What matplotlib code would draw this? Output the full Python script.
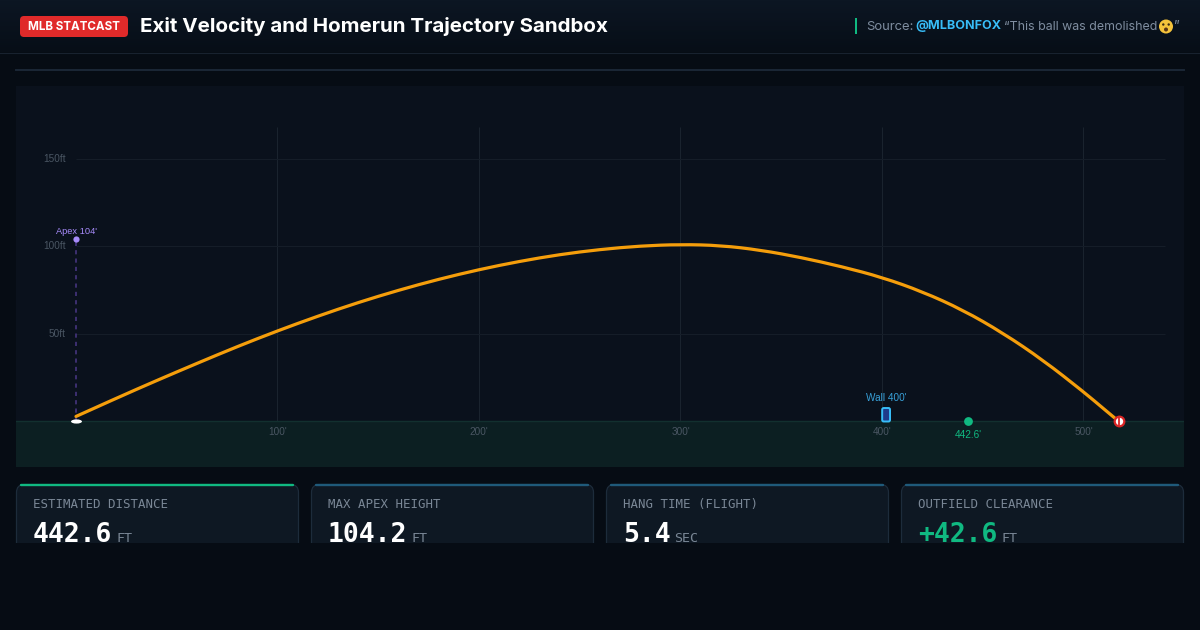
import numpy as np
import matplotlib
matplotlib.use('Agg')
import matplotlib.pyplot as plt
from matplotlib.patches import FancyBboxPatch, Rectangle, Circle, PathPatch
from matplotlib.path import Path

# trayectoria (pies)
dist_ft = [0, 20, 40, 60, 80, 100, 120, 140, 160, 180, 200, 220, 240, 260, 280, 300, 320, 340, 360, 380, 400, 420, 440, 460, 480, 500, 510, 517.6]
alt_ft = [2.9, 13.3, 23.4, 33.2, 42.8, 51.8, 60.2, 68, 75, 81.3, 86.8, 91.5, 95.4, 98.3, 100.3, 101.2, 100.6, 97.9, 93.7, 88.5, 82.4, 74.2, 63.8, 50.6, 35, 17, 7.3, 0]

x_ticks = [100, 200, 300, 400, 500]
y_ticks = [50, 100, 150]
apex_ft = 104.2
wall_ft = 400
wall_alt = 7.7
land_ft = 442.6
land_x = 517.6

card_labels = ['ESTIMATED DISTANCE', 'MAX APEX HEIGHT', 'HANG TIME (FLIGHT)', 'OUTFIELD CLEARANCE']
card_values = ['442.6', '104.2', '5.4', '+42.6']
card_units = ['FT', 'FT', 'SEC', 'FT']

BG = '#060c14'
PANEL = '#0a111c'
GROUND = '#0c1f22'
MONO = 'DejaVu Sans Mono'
SANS = 'Liberation Sans'

fig = plt.figure(figsize=(12, 6.3), dpi=100, facecolor=BG)

# capa de fondo en pixeles
bg = fig.add_axes([0, 0, 1, 1], zorder=0)
bg.axis('off')

grad = np.linspace(0, 1, 52).reshape(-1, 1)
bg.imshow(grad, extent=(0, 1200, 52, 0), aspect='auto', cmap=matplotlib.colors.LinearSegmentedColormap.from_list('h', ['#0c1623', '#070e17']), zorder=0)
bg.set_xlim(0, 1200)
bg.set_ylim(630, 0)
bg.plot([0, 1200], [52.5, 52.5], color='#18222f', lw=0.8)
bg.plot([16, 1184], [70, 70], color='#1b2736', lw=1.4)
bg.add_patch(Rectangle((16, 86), 1168, 381, fc=PANEL, ec='none'))

# cabecera
bg.add_patch(FancyBboxPatch((20, 16), 108, 21, boxstyle='round,pad=0,rounding_size=4', fc='#e02a2a', ec='none'))
bg.text(74, 27, 'MLB STATCAST', color='white', fontsize=8.4, fontweight='bold', family='Inter', ha='center', va='center')
bg.text(140, 26, 'Exit Velocity and Homerun Trajectory Sandbox', color='white', fontsize=14.8, fontweight='bold', family='Inter', ha='left', va='center')
bg.add_patch(Rectangle((855, 18), 2, 16, fc='#10b981', ec='none'))
bg.text(866, 26.5, 'Source:', color='#7f8da0', fontsize=9.4, family='Inter', ha='left', va='center')
bg.text(915.5, 26.5, '@MLBONFOX', color='#38bdf8', fontsize=9.05, fontweight='bold', family='Inter', ha='left', va='center')
bg.text(1004, 26.5, '\u201cThis ball was demolished', color='#7f8da0', fontsize=8.95, family='Inter', ha='left', va='center')
bg.text(1174, 26.5, '\u201d', color='#7f8da0', fontsize=9.3, family='Inter', ha='left', va='center')
# emoji dibujado a mano, no hay fuente de emoji
bg.add_patch(Circle((1166, 26.5), 7, fc='#f5c33b', ec='none'))
bg.add_patch(Circle((1163.3, 24.5), 1.2, fc='#3a2a12', ec='none'))
bg.add_patch(Circle((1168.7, 24.5), 1.2, fc='#3a2a12', ec='none'))
bg.add_patch(Circle((1166, 29.5), 2, fc='#5a3516', ec='none'))

# tarjetas
card_x = [16, 311, 606, 901]
card_top = ['#10b981', '#1f5a7a', '#1f5a7a', '#1f5a7a']
value_colors = ['white', 'white', 'white', '#10b981']
for i in range(4):
    x0 = card_x[i]
    bg.add_patch(FancyBboxPatch((x0 + 0.5, 484.5), 282, 80, boxstyle='round,pad=0,rounding_size=8', fc='#0e1823', ec='#1d2c3b', lw=0.9))
    bg.plot([x0 + 5, x0 + 277], [485, 485], color=card_top[i], lw=1.7, solid_capstyle='round')
    bg.text(x0 + 17, 508, card_labels[i], color='#7a8796', fontsize=8.9, family=MONO, ha='left', va='baseline')
    bg.text(x0 + 17, 541.5, card_values[i], color=value_colors[i], fontsize=19, fontweight='bold', family=MONO, ha='left', va='baseline')
    bg.text(x0 + 17 + 15.85 * len(card_values[i]) + 4, 541.5, card_units[i], color='#7a8796', fontsize=9.6, family=MONO, ha='left', va='baseline')

# lo de abajo queda cortado como en la captura
bg.add_patch(Rectangle((0, 543), 1200, 87, fc=BG, ec='none', zorder=10))

# grafico en pies
ax = fig.add_axes([16 / 1200, (630 - 467) / 630, 1168 / 1200, 381 / 630], zorder=1)
ax.patch.set_alpha(0)
ax.set_xlim(-29.78, 549.9)
ax.set_ylim(-26, 191.7)
ax.axis('off')

ax.axhspan(-26, 0, color=GROUND, lw=0, zorder=1)
ax.axhline(0, color='#12302f', lw=1, zorder=2)
ax.vlines(x_ticks, 0, 168.3, color='#1a232e', lw=0.72, zorder=1)
ax.hlines(y_ticks, 0, 540.4, color='#151d28', lw=0.72, zorder=1)

for t in x_ticks:
    ax.text(t, -6.2, f"{t}'", color='#4a5663', fontsize=7.2, family=SANS, ha='center', va='center')
for t in y_ticks:
    ax.text(-5, t, f"{t}ft", color='#4a5663', fontsize=7.2, family=SANS, ha='right', va='center')

# apex
ax.plot([0, 0], [0, apex_ft], color='#45357f', lw=1.2, ls=(0, (2.5, 2.5)), zorder=3)
ax.scatter([0], [apex_ft], s=20, color='#a78bfa', lw=0, zorder=5)
ax.text(0, apex_ft + 4.6, "Apex 104'", color='#a78bfa', fontsize=6.7, family=SANS, ha='center', va='center')

# home plate
ax.scatter([0], [0], s=62, marker=matplotlib.markers.MarkerStyle('o', transform=matplotlib.transforms.Affine2D().scale(1, 0.38)), color='white', lw=0, zorder=6)

# trayectoria: curva cuadratica sobre los puntos leidos para que no se vea quebrada
verts = [(dist_ft[0], alt_ft[0])]
codes = [Path.MOVETO]
for i in range(1, len(dist_ft) - 1):
    verts.append((dist_ft[i], alt_ft[i]))
    verts.append(((dist_ft[i] + dist_ft[i + 1]) / 2, (alt_ft[i] + alt_ft[i + 1]) / 2))
    codes += [Path.CURVE3, Path.CURVE3]
verts.append((dist_ft[-1], alt_ft[-1]))
codes.append(Path.LINETO)
ax.add_patch(PathPatch(Path(verts, codes), fc='none', ec='#f59e0b', lw=2.3, capstyle='round', joinstyle='round', zorder=4))

# muro
ax.add_patch(FancyBboxPatch((wall_ft + 0.1, 0), 3.9, wall_alt, boxstyle='round,pad=0,rounding_size=0.8', mutation_aspect=1.15, fc='#1e3a8a', ec='#38bdf8', lw=1.4, zorder=5))
ax.text(wall_ft + 2, wall_alt + 5.8, "Wall 400'", color='#38a0d8', fontsize=7.2, family=SANS, ha='center', va='center')

# aterrizaje
ax.scatter([land_ft], [0], s=40, color='#10b981', lw=0, zorder=5)
ax.text(land_ft, -7.5, "442.6'", color='#10b981', fontsize=7.2, family=SANS, ha='center', va='center')

# pelota
ax.scatter([land_x], [0], s=48, fc='white', ec='#dc2626', lw=1.6, zorder=7)
ax.plot([land_x, land_x], [-2, 2], color='#dc2626', lw=1.3, zorder=8)

fig.savefig('out.png', dpi=100, facecolor=BG)
